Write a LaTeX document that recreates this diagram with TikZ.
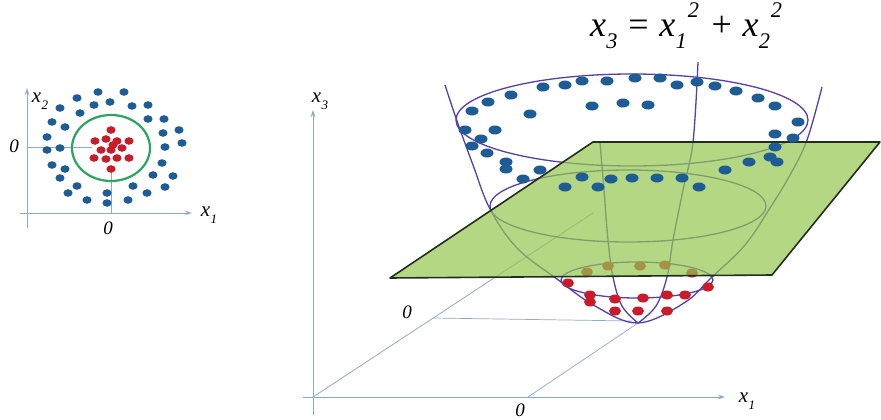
\documentclass[tikz,border=0pt]{standalone}
\usepackage{fontspec}
\setmainfont{Liberation Serif}
\usepackage{graphicx}
\usetikzlibrary{arrows.meta}
\definecolor{axisc}{RGB}{140,170,205}
\definecolor{dotb}{RGB}{30,92,150}
\definecolor{dotr}{RGB}{200,28,42}
\definecolor{ringg}{RGB}{40,165,95}
\definecolor{meshc}{RGB}{85,62,175}
\definecolor{planec}{RGB}{148,198,80}
\definecolor{planee}{RGB}{35,45,30}
\newcommand{\xv}[1]{\textit{x\kern0.2pt\raisebox{-0.32em}{\scalebox{0.62}{#1}}}}
\newcommand{\xvs}[1]{\textit{x\kern0.2pt\raisebox{-0.32em}{\scalebox{0.62}{#1}}\kern1pt\raisebox{0.55em}{\scalebox{0.62}{2}}}}
\begin{document}
\begin{tikzpicture}[x=1pt,y=-1pt,
  axis/.style={draw=axisc, line width=0.8pt},
  axarrow/.style={axis,-{Stealth[length=7pt,width=4.5pt]}},
  guide/.style={draw=axisc, line width=0.7pt},
  mesh/.style={draw=meshc, line width=1.3pt},
  ring/.style={draw=ringg, line width=2.2pt},
  plane/.style={fill=planec, fill opacity=0.7, draw=planee, line width=1.6pt, line join=round},
  lab/.style={font=\fontsize{21}{23}\selectfont, inner sep=0pt},
  zero/.style={font=\fontsize{19}{21}\selectfont\itshape, inner sep=0pt},
  eqn/.style={font=\fontsize{36}{40}\selectfont, inner sep=0pt}
]
\useasboundingbox (0,0) rectangle (881,420);

% ---------------- left plot ----------------
\coordinate (lo) at (27,213);
\draw[axarrow] (27,228) -- (27,88);
\draw[axarrow] (20,213) -- (192,213);
\draw[guide] (27,147) -- (92,147);
\draw[guide] (111,168) -- (111,213);
\node[lab] (lx2) at (40,101) {\xv{2}};
\node[lab] (lx1) at (209,215) {\xv{1}};
\node[zero] (lz1) at (14,146) {0};
\node[zero] (lz2) at (108,228) {0};
\draw[ring] (111,148) ellipse [x radius=39pt, y radius=33pt];
\foreach \a/\b in {98/92,124/92,60/108,77/98,94/105,110/102,132/106,148/105,80/113,52/122,65/127,148/119,164/119,47/137,163/133,179/130,47/150,60/148,165/147,182/143,52/165,65/169,162/163,60/178,153/175,173/176,77/186,68/193,133/186,165/187,147/193,87/200,107/193,107/203,128/200}
  {\fill[dotb] (\a,\b) ellipse [x radius=4.6pt, y radius=3.8pt];}
\foreach \a/\b in {111/130,95/141,106/139,117/141,129/141,101/150,111/150,122/148,94/158,106/159,117/158,129/158,111/169,113/145}
  {\fill[dotr] (\a,\b) ellipse [x radius=4.6pt, y radius=3.8pt];}

% ---------------- right plot: axes ----------------
\coordinate (o) at (313,397);
\coordinate (z2) at (433,318);
\coordinate (z1) at (528,397);
\coordinate (vx) at (638,323);
\draw[axarrow] (313,415) -- (313,110);
\draw[axarrow] (303,397) -- (725,397);
\draw[axis] (o) -- (593,213);
\draw[guide] (z2) -- (632,321);
\draw[guide] (z1) -- (vx);
\node[lab] (rx3) at (320,101) {\xv{3}};
\node[lab] (rx1) at (747,401) {\xv{1}};
\node[zero] (rz2) at (407,312) {0};
\node[zero] (rz1) at (520,410) {0};

% ---------------- paraboloid mesh ----------------
\draw[mesh] plot[smooth, tension=0.6] coordinates {(445,85) (457,121) (473,165) (490,209) (517,248) (557,279) (595,306) (638,323) (684,303) (712,277) (745,245) (770,208) (790,175) (807,140) (822,87)};
\draw[mesh] plot[smooth, tension=0.6] coordinates {(698,62) (693,142) (683,190) (673,240) (667,277) (656,306) (638,323)};
\draw[mesh] plot[smooth, tension=0.6] coordinates {(600,143) (604,190) (608,240) (613,277) (622,306) (638,323)};
\draw[mesh] (637,280) ellipse [x radius=76pt, y radius=18pt];
\draw[mesh] (628,206) ellipse [x radius=138pt, y radius=36pt];
\draw[mesh] (632,120) ellipse [x radius=176pt, y radius=46pt];

% red points (below the plane)
\foreach \a/\b in {587/272,608/266,640/266,665/265,692/273,568/283,590/295,590/302,615/299,643/298,667/295,685/295,708/287,615/311,638/311,667/311}
  {\fill[dotr] (\a,\b) ellipse [x radius=6pt, y radius=4.5pt];}

% separating plane
\draw[plane] (593,142) -- (880,142) -- (772,275) -- (390,278) -- cycle;

% blue points (above the plane)
\foreach \a/\b in {472/111,488/102,511/95,543/87,565/85,582/81,607/81,635/78,660/78,677/85,697/82,715/86,736/91,758/98,775/106,798/122,775/134,793/138,775/147,770/157,777/162,749/162,725/170,592/106,623/103,648/105,530/114,495/130,465/130,481/139,472/146,487/153,506/162,506/169,523/179,540/170,565/187,582/177,598/187,611/179,632/178,657/178,682/178,699/187}
  {\fill[dotb] (\a,\b) ellipse [x radius=6.5pt, y radius=4.5pt];}

% equation
\node[eqn, anchor=base west] (eq) at (590,37) {\xv{3}\hspace{0.3em}=\hspace{0.3em}\xvs{1}\hspace{0.35em}+\hspace{0.3em}\xvs{2}};
\end{tikzpicture}
\end{document}
